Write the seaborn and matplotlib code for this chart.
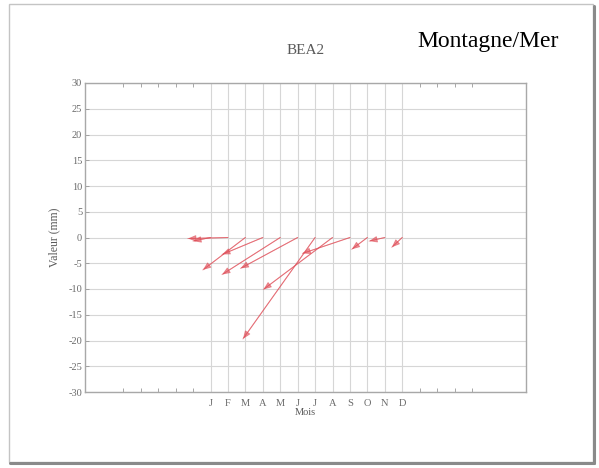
import matplotlib
matplotlib.use("Agg")
import matplotlib.pyplot as plt
from matplotlib.patches import Rectangle
from matplotlib.lines import Line2D
import pandas as pd
import seaborn as sns

# Monthly displacement vectors for station BEA2
month_labels = ["J", "F", "M", "A", "M", "J", "J", "A", "S", "O", "N", "D"]
month_pos = [1, 2, 3, 4, 5, 6, 7, 8, 9, 10, 11, 12]
vec_u = [-1.0, -2.3, -2.44, -2.34, -3.34, -3.28, -4.14, -3.97, -2.73, -0.9, -0.9, -0.6]
vec_v = [-0.7, -0.2, -6.3, -3.3, -7.2, -6.0, -19.7, -10.1, -3.1, -2.3, -0.7, -1.9]
y_ticks = [30, 25, 20, 15, 10, 5, 0, -5, -10, -15, -20, -25, -30]
side_ticks = [-4, -3, -2, -1, 0, 13, 14, 15, 16]

sns.set_theme(style="white")
plt.rcParams["font.family"] = ["Liberation Serif", "DejaVu Serif"]

fig = plt.figure(figsize=(5.99, 4.68), dpi=100)
W, H = 599, 468
arrow_color = "#e0505a"

# page frame with a soft shadow
fig.patches.append(Rectangle((9 / W, 1 - 462 / H), 584 / W, 458 / H,
                             transform=fig.transFigure, fill=False,
                             edgecolor="#c4c4c4", lw=1.0))
fig.lines.append(Line2D([594 / W, 594 / W], [1 - 463 / H, 1 - 6 / H],
                        transform=fig.transFigure, color="#8a8a8a", lw=2.2))
fig.lines.append(Line2D([10 / W, 594 / W], [1 - 463 / H, 1 - 463 / H],
                        transform=fig.transFigure, color="#8a8a8a", lw=2.2))

ax = fig.add_axes([85 / W, 1 - 392 / H, 441 / W, 309 / H])

# arrow shafts
rows = []
for m, u, v in zip(month_pos, vec_u, vec_v):
    rows.append({"mois": m, "x": m, "y": 0.0})
    rows.append({"mois": m, "x": m + u, "y": v})
df = pd.DataFrame(rows)
sns.lineplot(data=df, x="x", y="y", units="mois", estimator=None, sort=False,
             color=arrow_color, lw=0.7, alpha=0.6, ax=ax, legend=False)

# arrow heads
for m, u, v in zip(month_pos, vec_u, vec_v):
    ax.annotate("", xy=(m + u, v), xytext=(m, 0.0),
                arrowprops=dict(arrowstyle="-|>,head_length=0.4,head_width=0.16",
                                color=arrow_color, lw=0.7, alpha=0.6,
                                shrinkA=0, shrinkB=0))

ax.set_xlim(-6.2, 19.1)
ax.set_ylim(-30, 30)

ax.set_yticks(y_ticks)
ax.set_yticklabels([str(t) for t in y_ticks], fontsize=7.5, color="#6a6a6a")
ax.set_xticks(month_pos)
ax.set_xticklabels(month_labels, fontsize=7.5, color="#6a6a6a")
ax.set_xticks(side_ticks, minor=True)

ax.tick_params(axis="x", which="major", length=0, pad=5)
ax.tick_params(axis="x", which="minor", direction="in", length=3,
               top=True, bottom=True, color="#999999", width=0.6)
ax.tick_params(axis="y", which="major", direction="in", length=3,
               left=True, color="#999999", width=0.6, pad=2)

# grid: horizontal across, vertical only over the months
for t in y_ticks:
    ax.axhline(t, color="#d6d6d6", lw=0.8, zorder=0)
for m in month_pos:
    ax.axvline(m, color="#d6d6d6", lw=0.8, zorder=0)

for s in ax.spines.values():
    s.set_color("#a8a8a8")
    s.set_linewidth(1.0)

ax.set_xlabel("Mois", fontsize=7.5, color="#5a5a5a", labelpad=0)
ax.set_ylabel("Valeur (mm)", fontsize=8.5, color="#5a5a5a", labelpad=6)

fig.text(306 / W, 1 - 50 / H, "BEA2", ha="center", va="center",
         fontsize=11, color="#5a5a5a")
fig.text(488 / W, 1 - 42 / H, "Montagne/Mer", ha="center", va="center",
         fontsize=17, color="black")

fig.savefig("out.png", dpi=100)
